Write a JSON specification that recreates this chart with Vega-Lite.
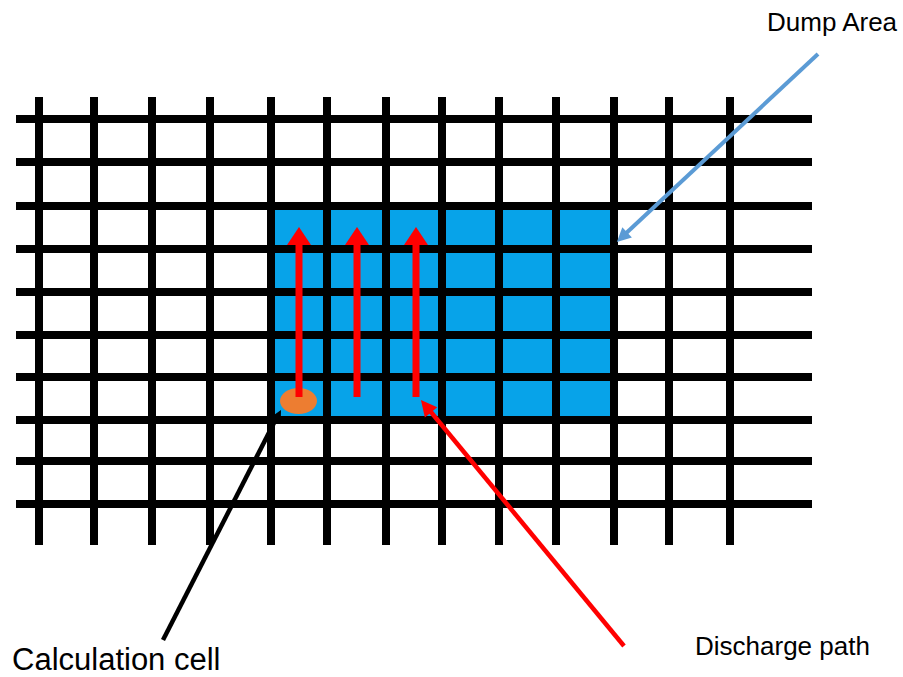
{
  "$schema": "https://vega.github.io/schema/vega-lite/v6.json",
  "width": 903,
  "height": 677,
  "padding": 0,
  "autosize": "none",
  "background": "white",
  "config": {"view": {"stroke": null}, "font": "Liberation Sans"},
  "datasets": {
    "area": [{"x": 271, "y": 206, "x2": 614, "y2": 420}],
    "grid": [
      {"x": 39, "y": 97, "x2": 39, "y2": 545},
      {"x": 94, "y": 97, "x2": 94, "y2": 545},
      {"x": 152, "y": 97, "x2": 152, "y2": 545},
      {"x": 210, "y": 97, "x2": 210, "y2": 545},
      {"x": 271, "y": 97, "x2": 271, "y2": 545},
      {"x": 327, "y": 97, "x2": 327, "y2": 545},
      {"x": 386, "y": 97, "x2": 386, "y2": 545},
      {"x": 442, "y": 97, "x2": 442, "y2": 545},
      {"x": 499, "y": 97, "x2": 499, "y2": 545},
      {"x": 556, "y": 97, "x2": 556, "y2": 545},
      {"x": 614, "y": 97, "x2": 614, "y2": 545},
      {"x": 669, "y": 97, "x2": 669, "y2": 545},
      {"x": 730, "y": 97, "x2": 730, "y2": 545},
      {"x": 16, "y": 119, "x2": 812, "y2": 119},
      {"x": 16, "y": 162, "x2": 812, "y2": 162},
      {"x": 16, "y": 206, "x2": 812, "y2": 206},
      {"x": 16, "y": 249, "x2": 812, "y2": 249},
      {"x": 16, "y": 292, "x2": 812, "y2": 292},
      {"x": 16, "y": 335, "x2": 812, "y2": 335},
      {"x": 16, "y": 377, "x2": 812, "y2": 377},
      {"x": 16, "y": 420, "x2": 812, "y2": 420},
      {"x": 16, "y": 461, "x2": 812, "y2": 461},
      {"x": 16, "y": 504, "x2": 812, "y2": 504}
    ],
    "cell": [{"x": 298.5, "y": 401}],
    "paths": [
      {"x": 299, "y": 397, "x2": 299, "y2": 244},
      {"x": 357, "y": 397, "x2": 357, "y2": 244},
      {"x": 416, "y": 397, "x2": 416, "y2": 244}
    ],
    "pathHeads": [
      {"x": 299, "y": 236},
      {"x": 357, "y": 236},
      {"x": 416, "y": 236}
    ],
    "bluePointer": [{"x": 818, "y": 54, "x2": 622, "y2": 237}],
    "blueHead": [{"x": 622, "y": 237.2}],
    "blackPointer": [{"x": 163, "y": 640, "x2": 278, "y2": 415}],
    "blackHead": [{"x": 278.2, "y": 415.3}],
    "redPointer": [{"x": 624, "y": 646, "x2": 426, "y2": 406}],
    "redHead": [{"x": 426, "y": 406.2}],
    "labels": [
      {"x": 767, "y": 31, "text": "Dump Area", "kind": "dump"},
      {"x": 12, "y": 670, "text": "Calculation cell", "kind": "calc"},
      {"x": 695, "y": 655, "text": "Discharge path", "kind": "disc"}
    ]
  },
  "layer": [
    {
      "data": {"name": "area"},
      "mark": {"type": "rect", "color": "#07a3e9"},
      "encoding": {
        "x": {"field": "x", "type": "quantitative", "scale": {"domain": [0, 903], "nice": false, "zero": false}, "axis": null},
        "x2": {"field": "x2"},
        "y": {"field": "y", "type": "quantitative", "scale": {"domain": [0, 677], "nice": false, "zero": false, "reverse": true}, "axis": null},
        "y2": {"field": "y2"}
      }
    },
    {
      "data": {"name": "grid"},
      "mark": {"type": "rule", "color": "#000000", "strokeWidth": 8},
      "encoding": {
        "x": {"field": "x", "type": "quantitative", "axis": null},
        "x2": {"field": "x2"},
        "y": {"field": "y", "type": "quantitative", "axis": null},
        "y2": {"field": "y2"}
      }
    },
    {
      "data": {"name": "cell"},
      "mark": {"type": "point", "filled": true, "color": "#ed7d31", "opacity": 1, "size": 1369, "shape": "M-1,0 A1,0.7 0 1,0 1,0 A1,0.7 0 1,0 -1,0 Z"},
      "encoding": {
        "x": {"field": "x", "type": "quantitative", "axis": null},
        "y": {"field": "y", "type": "quantitative", "axis": null}
      }
    },
    {
      "data": {"name": "paths"},
      "mark": {"type": "rule", "color": "#ff0000", "strokeWidth": 7},
      "encoding": {
        "x": {"field": "x", "type": "quantitative", "axis": null},
        "x2": {"field": "x2"},
        "y": {"field": "y", "type": "quantitative", "axis": null},
        "y2": {"field": "y2"}
      }
    },
    {
      "data": {"name": "pathHeads"},
      "mark": {"type": "point", "filled": true, "color": "#ff0000", "opacity": 1, "size": 576, "shape": "M0,-0.75 L1,0.75 L-1,0.75 Z"},
      "encoding": {
        "x": {"field": "x", "type": "quantitative", "axis": null},
        "y": {"field": "y", "type": "quantitative", "axis": null}
      }
    },
    {
      "data": {"name": "bluePointer"},
      "mark": {"type": "rule", "color": "#5b9bd5", "strokeWidth": 4},
      "encoding": {
        "x": {"field": "x", "type": "quantitative", "axis": null},
        "x2": {"field": "x2"},
        "y": {"field": "y", "type": "quantitative", "axis": null},
        "y2": {"field": "y2"}
      }
    },
    {
      "data": {"name": "blueHead"},
      "mark": {"type": "point", "filled": true, "color": "#5b9bd5", "opacity": 1, "size": 196, "angle": 226.9, "shape": "M0,-1 L1,1 L-1,1 Z"},
      "encoding": {
        "x": {"field": "x", "type": "quantitative", "axis": null},
        "y": {"field": "y", "type": "quantitative", "axis": null}
      }
    },
    {
      "data": {"name": "blackPointer"},
      "mark": {"type": "rule", "color": "#000000", "strokeWidth": 4.5},
      "encoding": {
        "x": {"field": "x", "type": "quantitative", "axis": null},
        "x2": {"field": "x2"},
        "y": {"field": "y", "type": "quantitative", "axis": null},
        "y2": {"field": "y2"}
      }
    },
    {
      "data": {"name": "blackHead"},
      "mark": {"type": "point", "filled": true, "color": "#000000", "opacity": 1, "size": 144, "angle": 27.4, "shape": "M0,-1 L1,1 L-1,1 Z"},
      "encoding": {
        "x": {"field": "x", "type": "quantitative", "axis": null},
        "y": {"field": "y", "type": "quantitative", "axis": null}
      }
    },
    {
      "data": {"name": "redPointer"},
      "mark": {"type": "rule", "color": "#ff0000", "strokeWidth": 4.5},
      "encoding": {
        "x": {"field": "x", "type": "quantitative", "axis": null},
        "x2": {"field": "x2"},
        "y": {"field": "y", "type": "quantitative", "axis": null},
        "y2": {"field": "y2"}
      }
    },
    {
      "data": {"name": "redHead"},
      "mark": {"type": "point", "filled": true, "color": "#ff0000", "opacity": 1, "size": 256, "angle": 320.8, "shape": "M0,-1 L1,1 L-1,1 Z"},
      "encoding": {
        "x": {"field": "x", "type": "quantitative", "axis": null},
        "y": {"field": "y", "type": "quantitative", "axis": null}
      }
    },
    {
      "data": {"name": "labels"},
      "transform": [{"filter": "datum.kind === 'dump'"}],
      "mark": {"type": "text", "align": "left", "baseline": "alphabetic", "fontSize": 26, "color": "#000000", "font": "Liberation Sans"},
      "encoding": {
        "x": {"field": "x", "type": "quantitative", "axis": null},
        "y": {"field": "y", "type": "quantitative", "axis": null},
        "text": {"field": "text"}
      }
    },
    {
      "data": {"name": "labels"},
      "transform": [{"filter": "datum.kind === 'calc'"}],
      "mark": {"type": "text", "align": "left", "baseline": "alphabetic", "fontSize": 31, "color": "#000000", "font": "Liberation Sans"},
      "encoding": {
        "x": {"field": "x", "type": "quantitative", "axis": null},
        "y": {"field": "y", "type": "quantitative", "axis": null},
        "text": {"field": "text"}
      }
    },
    {
      "data": {"name": "labels"},
      "transform": [{"filter": "datum.kind === 'disc'"}],
      "mark": {"type": "text", "align": "left", "baseline": "alphabetic", "fontSize": 26, "color": "#000000", "font": "Liberation Sans"},
      "encoding": {
        "x": {"field": "x", "type": "quantitative", "axis": null},
        "y": {"field": "y", "type": "quantitative", "axis": null},
        "text": {"field": "text"}
      }
    }
  ]
}
